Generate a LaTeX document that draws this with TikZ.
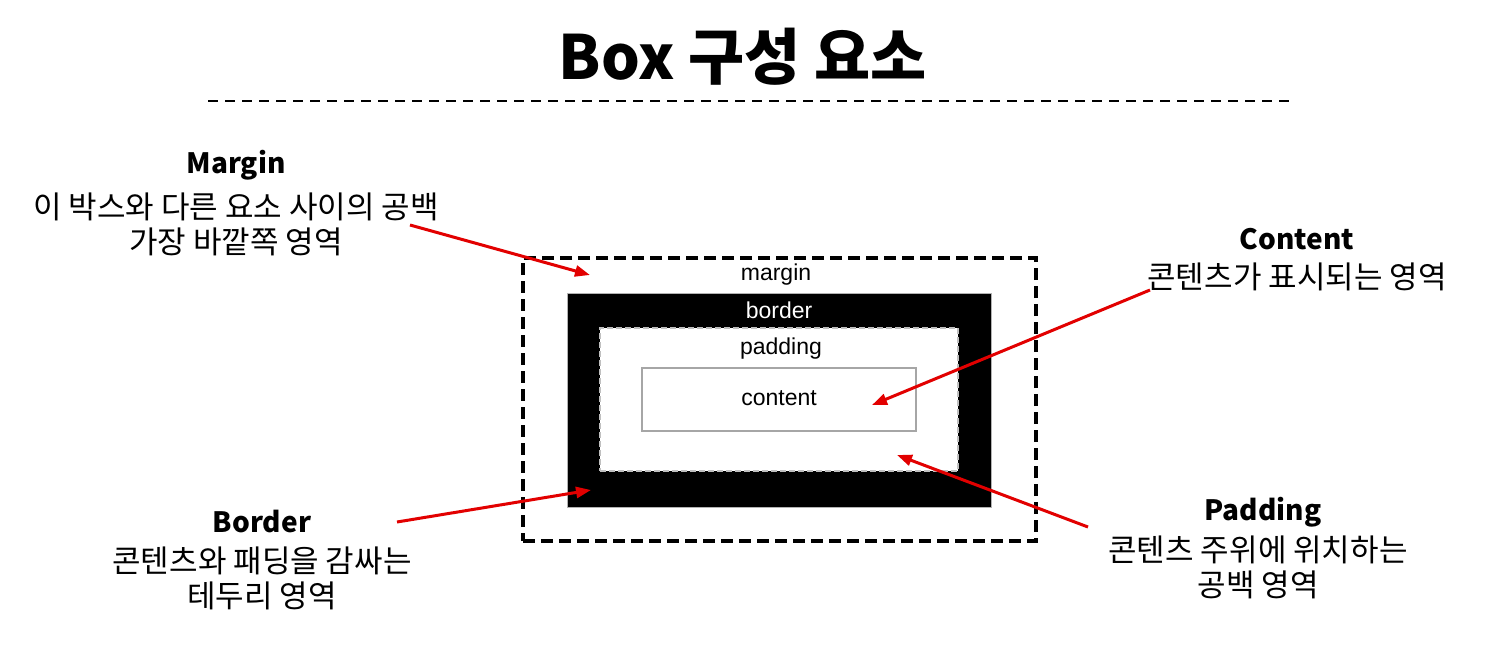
\documentclass[tikz,border=0pt]{standalone}
\usepackage{fontspec}
\setmainfont{Noto Sans CJK KR}
\newfontfamily\arialfont{Liberation Sans}
\usetikzlibrary{arrows.meta}
\definecolor{arrred}{RGB}{226,0,0}
\tikzset{
  headtxt/.style={font=\fontsize{28}{30}\selectfont\bfseries, inner sep=0pt},
  desctxt/.style={font=\fontsize{31}{35}\selectfont, align=center, inner sep=0pt},
  boxlabel/.style={font=\arialfont\fontsize{23}{25}\selectfont, inner sep=0pt},
  redarrow/.style={draw=arrred, line width=3pt, -{Triangle[length=15pt,width=11pt]}},
}
\begin{document}
\begin{tikzpicture}[x=1pt,y=-1pt]
\useasboundingbox (0,0) rectangle (1499,651);
% title
\node[font=\fontsize{61}{64}\selectfont\bfseries, inner sep=0pt] (title) at (743,57) {Box 구성 요소};
\coordinate (tl) at (208,101);
\coordinate (tr) at (1290,101);
\draw[line width=2.5pt, dash pattern=on 10pt off 7pt] (tl) -- (tr);
% boxes
\node[draw=black, line width=3.2pt, dash pattern=on 12pt off 6pt, minimum width=513pt, minimum height=283pt, inner sep=0pt] (marginbox) at (779.5,399.5) {};
\node[draw=gray!60, fill=black, line width=1pt, minimum width=424pt, minimum height=214pt, inner sep=0pt] (borderbox) at (779,400) {};
\node[draw=gray!50, fill=white, line width=1.5pt, dash pattern=on 6pt off 3pt, minimum width=358pt, minimum height=143pt, inner sep=0pt] (paddingbox) at (779,399.5) {};
\node[draw=gray!70, fill=white, line width=1.2pt, minimum width=274pt, minimum height=63pt, inner sep=0pt] (contentbox) at (779,399.5) {};
\node[boxlabel] (mlabel) at (776,275) {margin};
\node[boxlabel, text=white] (blabel) at (779,310) {border};
\node[boxlabel] (plabel) at (781,349) {padding};
\node[boxlabel] (clabel) at (779,398) {content};
% descriptions
\node[headtxt] (mhead) at (236,165) {Margin};
\node[desctxt] (mdesc) at (236,224) {이 박스와 다른 요소 사이의 공백\\가장 바깥쪽 영역};
\node[headtxt] (chead) at (1297,239) {Content};
\node[desctxt] (cdesc) at (1297,277) {콘텐츠가 표시되는 영역};
\node[headtxt] (bhead) at (262,522) {Border};
\node[desctxt] (bdesc) at (262,578) {콘텐츠와 패딩을 감싸는\\테두리 영역};
\node[headtxt] (phead) at (1263,512) {Padding};
\node[desctxt] (pdesc) at (1258,567) {콘텐츠 주위에 위치하는\\공백 영역};
% arrows
\coordinate (ma0) at (410,225);
\coordinate (ma1) at (590,275);
\coordinate (ca0) at (1150,290);
\coordinate (ca1) at (872,405);
\coordinate (ba0) at (397,522);
\coordinate (ba1) at (591,490);
\coordinate (pa0) at (1088,527);
\coordinate (pa1) at (897,455);
\draw[redarrow] (ma0) -- (ma1);
\draw[redarrow] (ca0) -- (ca1);
\draw[redarrow] (ba0) -- (ba1);
\draw[redarrow] (pa0) -- (pa1);
\end{tikzpicture}
\end{document}
